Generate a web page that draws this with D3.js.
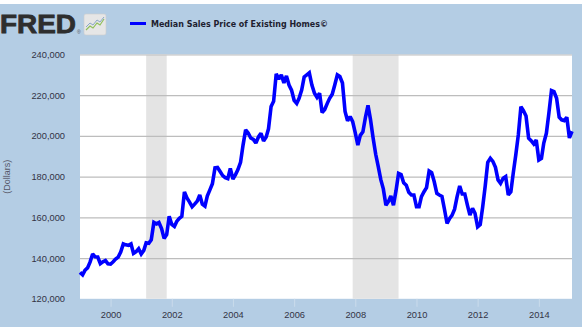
<!DOCTYPE html>
<html>
<head>
<meta charset="utf-8">
<script src="https://cdn.jsdelivr.net/npm/d3@7"></script>
<style>
  html, body { margin: 0; padding: 0; background: #ffffff; }
  svg { display: block; }
</style>
</head>
<body>
<svg id="chart" width="583" height="327"></svg>
<script>
// ---- data ----
const startMonth = "1999-01";   // first observation (monthly series)
// Median Sales Price of Existing Homes, dollars (thousands below, ×1000)
const values = [
  // 1999
  133.0, 131.8, 134.0, 135.2, 138.0, 142.0, 140.6, 140.5, 137.3, 138.2, 138.8, 137.2,
  // 2000
  137.0, 138.2, 139.5, 140.5, 143.0, 147.0, 146.5, 146.3, 147.0, 142.3, 143.2, 144.6,
  // 2001
  142.0, 143.8, 147.5, 147.3, 149.0, 157.5, 156.8, 157.5, 154.5, 149.7, 151.5, 160.5,
  // 2002
  156.5, 155.5, 158.0, 159.5, 160.5, 172.5, 169.5, 167.5, 165.2, 166.5, 168.0, 171.0,
  // 2003
  166.5, 165.5, 170.5, 173.5, 176.5, 184.3, 184.5, 182.5, 180.5, 179.5, 179.0, 184.0,
  // 2004
  178.8, 181.0, 183.5, 187.0, 195.5, 203.0, 201.5, 199.0, 198.3, 196.5, 199.5, 201.3,
  // 2005
  197.5, 199.5, 203.5, 214.5, 217.0, 230.5, 228.0, 230.0, 226.0, 229.5, 225.0, 222.5,
  // 2006
  217.5, 216.0, 218.5, 222.5, 229.0, 230.0, 231.0, 225.0, 221.0, 219.0, 221.0, 211.5,
  // 2007
  213.0, 216.0, 218.5, 220.5, 225.0, 230.0, 229.2, 226.0, 212.0, 207.5, 209.5, 207.0,
  // 2008
  201.5, 195.5, 200.3, 202.0, 209.0, 215.0, 208.0, 199.0, 191.0, 185.0, 178.5, 174.0,
  // 2009
  166.0, 167.8, 170.5, 166.0, 173.0, 181.6, 181.0, 177.0, 175.8, 172.3, 171.0, 171.0,
  // 2010
  165.2, 165.2, 170.2, 172.6, 174.6, 182.8, 182.0, 177.5, 171.8, 171.0, 170.3, 164.0,
  // 2011
  157.0, 159.5, 161.0, 164.0, 170.2, 175.4, 171.5, 171.5, 166.0, 161.1, 164.4, 162.0,
  // 2012
  155.4, 156.5, 165.0, 175.5, 187.0, 189.0, 187.5, 184.6, 178.4, 176.7, 179.2, 180.0,
  // 2013
  171.0, 172.6, 181.6, 190.7, 200.5, 214.4, 212.4, 209.8, 198.9, 197.7, 196.1, 198.0,
  // 2014
  188.2, 189.0, 196.5, 201.3, 211.2, 222.3, 221.8, 218.5, 209.2, 207.9, 207.5, 209.2,
  // 2015
  199.0, 202.3
];
const yTicks = [120000, 140000, 160000, 180000, 200000, 220000, 240000];
const xTickYears = [2000, 2002, 2004, 2006, 2008, 2010, 2012, 2014];
const recessions = [["2001-03", "2001-11"], ["2007-12", "2009-06"]];
const seriesName = "Median Sales Price of Existing Homes\u00A9";
const yTitle = "(Dollars)";

// ---- build ----
const parseMonth = d3.timeParse("%Y-%m");
const t0 = parseMonth(startMonth);
const data = values.map((v, i) => ({ date: d3.timeMonth.offset(t0, i), value: v * 1000 }));

const svg = d3.select("#chart");
const W = 583, H = 327;
const bg = "#b4cde4";
const plot = { left: 80, right: 572, top: 54.5, bottom: 298.8 };

// background (thin white strip at top and right edge)
svg.append("rect").attr("x", 0).attr("y", 4).attr("width", 582).attr("height", H - 4).attr("fill", bg);

const x = d3.scaleTime()
  .domain([t0, data[data.length - 1].date])
  .range([plot.left, plot.right]);
const y = d3.scaleLinear()
  .domain([yTicks[0], yTicks[yTicks.length - 1]])
  .range([plot.bottom, plot.top]);

// plot area
svg.append("rect")
  .attr("x", plot.left).attr("y", plot.top)
  .attr("width", plot.right - plot.left).attr("height", plot.bottom - plot.top)
  .attr("fill", "#ffffff");

// recession shading
svg.append("g").selectAll("rect").data(recessions).join("rect")
  .attr("x", d => x(parseMonth(d[0])))
  .attr("y", plot.top)
  .attr("width", d => x(parseMonth(d[1])) - x(parseMonth(d[0])))
  .attr("height", plot.bottom - plot.top)
  .attr("fill", "#e4e4e4");

// y grid + labels
const yAxis = d3.axisLeft(y).tickValues(yTicks)
  .tickSize(-(plot.right - plot.left)).tickPadding(15)
  .tickFormat(d3.format(",.0f"));
const gy = svg.append("g").attr("transform", `translate(${plot.left},0)`).call(yAxis);
gy.select(".domain").remove();
gy.selectAll(".tick line").attr("stroke", "#bdbdbd").attr("stroke-width", 1.2)
  .attr("display", d => d === yTicks[0] ? "none" : null);
gy.selectAll(".tick text")
  .attr("font-family", "'Liberation Sans', Arial, sans-serif")
  .attr("font-size", 9.3).attr("fill", "#333344");

// x axis ticks + labels
const xAxis = d3.axisBottom(x)
  .tickValues(xTickYears.map(yr => new Date(yr, 0, 1)))
  .tickSize(8).tickPadding(5)
  .tickFormat(d3.timeFormat("%Y"));
const gx = svg.append("g").attr("transform", `translate(0,${plot.bottom})`).call(xAxis);
gx.select(".domain").remove();
gx.selectAll(".tick line").attr("stroke", "#cadbeb").attr("stroke-width", 1);
gx.selectAll(".tick text")
  .attr("font-family", "'Liberation Sans', Arial, sans-serif")
  .attr("font-size", 9.3).attr("fill", "#333344");

// y title
svg.append("text")
  .attr("transform", `translate(10,${(plot.top + plot.bottom) / 2}) rotate(-90)`)
  .attr("text-anchor", "middle")
  .attr("font-family", "'Liberation Sans', Arial, sans-serif")
  .attr("font-size", 9).attr("fill", "#555566")
  .text(yTitle);

// series line
const line = d3.line().x(d => x(d.date)).y(d => y(d.value));
svg.append("path").datum(data)
  .attr("d", line)
  .attr("fill", "none")
  .attr("stroke", "#0000ff")
  .attr("stroke-width", 3.6)
  .attr("stroke-linejoin", "miter")
  .attr("stroke-miterlimit", 2);

// FRED logo
svg.append("text")
  .attr("x", 0).attr("y", 33)
  .attr("font-family", "'Liberation Sans', Arial, sans-serif")
  .attr("font-weight", "bold")
  .attr("font-size", 25.5)
  .attr("textLength", 76).attr("lengthAdjust", "spacingAndGlyphs")
  .attr("fill", "#2e2e2e")
  .attr("stroke", "#2e2e2e").attr("stroke-width", 0.8)
  .text("FRED");
svg.append("text")
  .attr("x", 77).attr("y", 34)
  .attr("font-family", "'Liberation Sans', Arial, sans-serif")
  .attr("font-size", 5).attr("fill", "#555")
  .text("\u00AE");
// logo icon
const icon = svg.append("g").attr("transform", "translate(84,14)");
icon.append("rect").attr("width", 22).attr("height", 21).attr("rx", 2)
  .attr("fill", "#e6e6e6").attr("stroke", "#cfcfcf").attr("stroke-width", 0.6);
icon.append("path").attr("d", "M2,16 L6,12 L9,14 L13,9 L16,11 L20,5")
  .attr("fill", "none").attr("stroke", "#8fbf5a").attr("stroke-width", 1.2);
icon.append("path").attr("d", "M2,13 L6,9 L9,11 L13,6 L16,8 L20,3")
  .attr("fill", "none").attr("stroke", "#8aa6c8").attr("stroke-width", 1);

// legend
svg.append("line")
  .attr("x1", 130).attr("x2", 146).attr("y1", 23.5).attr("y2", 23.5)
  .attr("stroke", "#0000ff").attr("stroke-width", 3);
svg.append("text")
  .attr("x", 151).attr("y", 26.5)
  .attr("font-family", "'DejaVu Sans', Verdana, sans-serif")
  .attr("font-weight", "bold")
  .attr("font-size", 8)
  .attr("textLength", 177).attr("lengthAdjust", "spacingAndGlyphs")
  .attr("fill", "#1e1e30")
  .text(seriesName);
</script>
</body>
</html>
